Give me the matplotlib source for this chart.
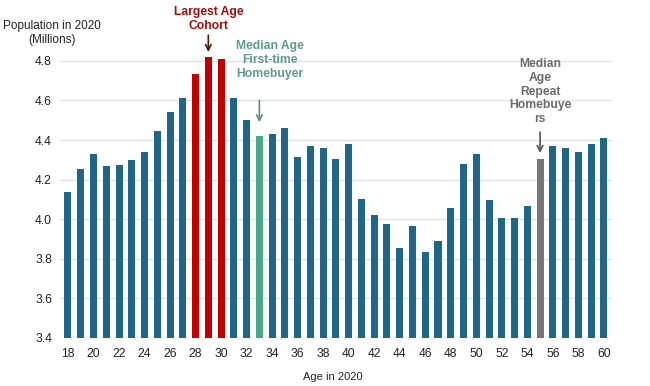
import matplotlib
matplotlib.use("Agg")
import matplotlib.pyplot as plt

plt.rcParams["font.family"] = ["Liberation Sans", "DejaVu Sans"]

ages = list(range(18, 61))
population = [4.14, 4.255, 4.33, 4.27, 4.275, 4.30, 4.34, 4.445, 4.54, 4.61,
              4.735, 4.82, 4.81, 4.61, 4.50, 4.42, 4.43, 4.46, 4.315, 4.37,
              4.36, 4.305, 4.38, 4.10, 4.02, 3.975, 3.855, 3.965, 3.835, 3.89,
              4.055, 4.28, 4.33, 4.095, 4.005, 4.005, 4.065, 4.305, 4.37, 4.36,
              4.34, 4.38, 4.41]
largest_ages = [28, 29, 30]
median_first = 33
median_repeat = 55

base = "#1f6688"
colors = []
for a in ages:
    if a in largest_ages:
        colors.append("#c00000")
    elif a == median_first:
        colors.append("#4aa88a")
    elif a == median_repeat:
        colors.append("#767676")
    else:
        colors.append(base)

fig = plt.figure(figsize=(6.5, 3.86), dpi=100)
ax = fig.add_axes([0.0928, 0.1244, 0.848, 0.7435])

ax.bar(ages, [p - 3.4 for p in population], bottom=3.4, width=0.55, color=colors, zorder=3)

ax.set_ylim(3.4, 4.85)
ax.set_xlim(17.4, 60.6)
ax.set_yticks([3.4, 3.6, 3.8, 4.0, 4.2, 4.4, 4.6, 4.8])
ax.set_yticklabels(["3.4", "3.6", "3.8", "4.0", "4.2", "4.4", "4.6", "4.8"])
ax.set_xticks(list(range(18, 61, 2)))
ax.tick_params(axis="both", length=0, labelsize=8.7, colors="#222222")
ax.tick_params(axis="y", pad=6)
ax.tick_params(axis="x", pad=7)
ax.grid(axis="y", color="#e3e3e3", linewidth=1, zorder=0)
for s in ax.spines.values():
    s.set_visible(False)

fig.text(52 / 650, 1 - 20 / 386, "Population in 2020\n(Millions)", ha="center", va="top",
         fontsize=8.5, color="#222222", linespacing=1.25)
fig.text(333 / 650, 1 - 377 / 386, "Age in 2020", ha="center", va="center", fontsize=8, color="#222222")

# annotations
ax.text(29, 4.945, "Largest Age\nCohort", ha="center", va="bottom", fontsize=8.7,
        fontweight="bold", color="#a00d0d", linespacing=1.2)
ax.annotate("", xy=(29, 4.845), xytext=(29, 4.93), annotation_clip=False,
            arrowprops=dict(arrowstyle="->", color="#4a1a0a", lw=1.2, shrinkA=0, shrinkB=0))

ax.text(33.85, 4.705, "Median Age\nFirst-time\nHomebuyer", ha="center", va="bottom", fontsize=8.7,
        fontweight="bold", color="#5f9b8a", linespacing=1.2)
ax.annotate("", xy=(33, 4.49), xytext=(33, 4.6), annotation_clip=False,
            arrowprops=dict(arrowstyle="->", color="#6a8a80", lw=1.2, shrinkA=0, shrinkB=0))

ax.text(55, 4.475, "Median\nAge\nRepeat\nHomebuye\nrs", ha="center", va="bottom", fontsize=8.7,
        fontweight="bold", color="#6b6b6b", linespacing=1.2)
ax.annotate("", xy=(55, 4.335), xytext=(55, 4.44), annotation_clip=False,
            arrowprops=dict(arrowstyle="->", color="#555555", lw=1.2, shrinkA=0, shrinkB=0))

fig.savefig("out.png", dpi=100)
